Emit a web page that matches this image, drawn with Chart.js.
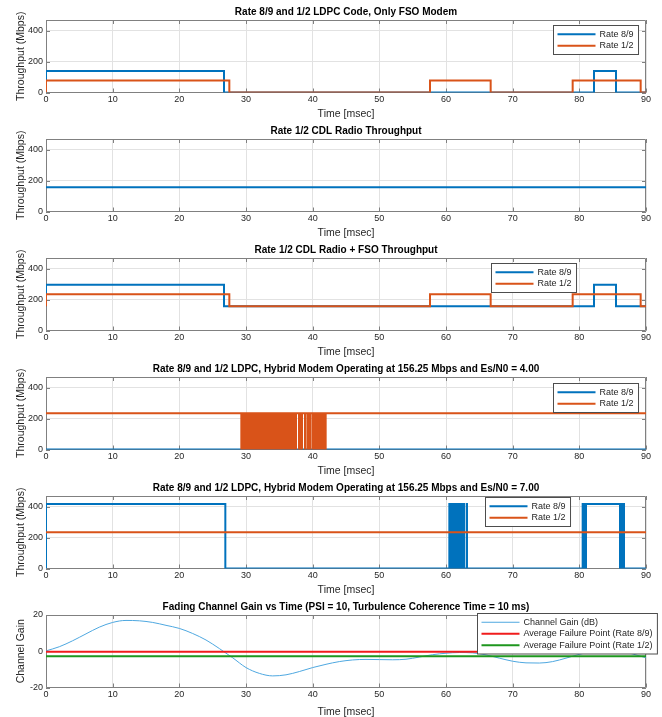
<!DOCTYPE html>
<html>
<head>
<meta charset="utf-8">
<title>Hybrid FSO / CDL radio throughput</title>
<script src="https://cdn.jsdelivr.net/npm/chart.js@4.4.1/dist/chart.umd.min.js"></script>
<style>
  html, body { margin: 0; padding: 0; background: #fff; }
  #figure { position: relative; width: 662px; height: 717px; }
  .panel { position: absolute; left: 0; width: 662px; }
  canvas { display: block; }
</style>
</head>
<body>
<div id="figure"></div>
<script>
// ── Data ──────────────────────────────────────────────────────────────────────

const TIME_TICKS       = [0, 10, 20, 30, 40, 50, 60, 70, 80, 90];
const THROUGHPUT_TICKS = [0, 200, 400];
const GAIN_TICKS       = [-20, 0, 20];

const THROUGHPUT_MAX = 468.75;   // Mbps, top of the throughput axes
const RADIO_RATE     = 156.25;   // CDL radio, constant
const FSO_RATE_89    = 138.9;    // FSO link up, rate 8/9
const FSO_RATE_12    = 78.1;     // FSO link up, rate 1/2
const HYBRID_RATE_89 = 416.7;    // hybrid modem, rate 8/9 link up
const HYBRID_RATE_12 = 234.4;    // hybrid modem, rate 1/2 link up

// FSO link-up windows [start, end] in msec
const FSO_UP_89 = [[0, 26.7], [82.2, 85.5]];
const FSO_UP_12 = [[0, 27.5], [57.6, 66.7], [79.0, 89.2]];

// Es/N0 = 4.00 : rate 1/2 outages [start, end] (rate 8/9 never up)
const ES4_OUT_12 = [
  [29.30, 29.45], [29.60, 29.75], [29.90, 30.05], [30.20, 30.35], [30.50, 30.65],
  [30.80, 30.95], [31.10, 31.25], [31.40, 31.55], [31.70, 31.85], [32.00, 32.15],
  [32.30, 32.45], [32.60, 32.75], [32.90, 33.05], [33.20, 33.35], [33.50, 33.65],
  [33.80, 33.95], [34.10, 34.25], [34.40, 34.55], [34.70, 34.85], [35.00, 35.15],
  [35.30, 35.45], [35.60, 35.75], [35.90, 36.05], [36.20, 36.35], [36.50, 36.65],
  [36.80, 36.95], [37.10, 37.25], [37.40, 37.50], [37.95, 38.10], [38.25, 38.40],
  [38.85, 38.90], [39.25, 39.30], [39.60, 39.65], [40.00, 40.15], [40.30, 40.45],
  [40.60, 40.75], [40.90, 41.05], [41.20, 41.35], [41.50, 41.65], [41.80, 41.95],
];

// Es/N0 = 7.00 : rate 8/9 link-up windows (rate 1/2 always up)
const ES7_UP_89 = [
  [0, 26.9],
  [60.50, 60.60], [60.70, 60.80], [60.90, 61.00], [61.10, 61.20], [61.30, 61.40],
  [61.50, 61.60], [61.70, 61.80], [61.90, 62.00], [62.10, 62.20], [62.30, 62.40],
  [62.55, 62.70], [63.10, 63.15],
  [80.50, 80.60], [80.75, 80.85], [81.00, 86.10],
  [86.25, 86.35], [86.50, 86.60], [86.65, 86.70],
];

// Fading channel gain (dB) vs time (msec)
const GAIN_TIME = [0, 2, 4, 6, 8, 10, 12, 14, 16, 18, 20, 22, 24, 26, 28, 30, 32, 34, 36, 38,
                   40, 42, 44, 46, 48, 50, 52, 54, 56, 58, 60, 62, 64, 66, 68, 70, 72, 74, 76, 78,
                   80, 82, 84, 86, 88, 90];
const GAIN_DB   = [0.2, 2.5, 5.8, 9.6, 13.3, 15.9, 17.0, 16.8, 15.9, 14.3, 12.6, 9.8, 6.2, 1.5,
                   -3.6, -9.0, -12.2, -13.6, -13.0, -11.2, -9.0, -7.2, -5.7, -4.8, -4.5, -4.6,
                   -4.7, -4.4, -3.2, -1.9, -1.1, -0.7, -0.9, -2.0, -3.8, -5.5, -6.4, -6.5, -5.7,
                   -3.8, -1.7, -0.2, 0.3, 0.2, -1.5, -3.6];
const FAIL_TIME  = [0, 90];
const FAIL_89_DB = [-0.3, -0.3];
const FAIL_12_DB = [-2.7, -2.7];

// ── Style ─────────────────────────────────────────────────────────────────────

const FONT   = '"Liberation Sans", Arial, Helvetica, sans-serif';
const TEXT   = '#262626';
const GRID   = '#e2e2e2';
const BOX    = '#808080';
const BLUE   = '#0072bd';
const ORANGE = '#d95319';
const PLOT_TOP = 20;
const PLOT_H   = 72.5;

// ── Helpers ───────────────────────────────────────────────────────────────────

/** Stair points: `base` everywhere except `level` inside each [start, end]. */
function steps(intervals, base, level) {
  const pts = [{ x: 0, y: base }];
  intervals.forEach(([a, b]) => pts.push({ x: a, y: level }, { x: b, y: base }));
  pts.push({ x: 90, y: base });
  return pts;
}

function xy(xs, ys) {
  return xs.map((x, i) => ({ x, y: ys[i] }));
}

function rate(label, data, color, order) {
  return { label, data, borderColor: color, borderWidth: 2, stepped: true, order };
}

// ── Panels ────────────────────────────────────────────────────────────────────

const PANELS = [
  {
    title: 'Rate 8/9 and 1/2 LDPC Code, Only FSO Modem',
    legend: { right: 638, top: 25 },
    datasets: [
      rate('Rate 8/9', steps(FSO_UP_89, 0, FSO_RATE_89), BLUE, 2),
      rate('Rate 1/2', steps(FSO_UP_12, 0, FSO_RATE_12), ORANGE, 1),
    ],
  },
  {
    title: 'Rate 1/2 CDL Radio Throughput',
    legend: null,
    datasets: [rate('Radio', steps([], RADIO_RATE, RADIO_RATE), BLUE, 1)],
  },
  {
    title: 'Rate 1/2 CDL Radio + FSO Throughput',
    legend: { right: 576, top: 25 },
    datasets: [
      rate('Rate 8/9', steps(FSO_UP_89, RADIO_RATE, RADIO_RATE + FSO_RATE_89), BLUE, 2),
      rate('Rate 1/2', steps(FSO_UP_12, RADIO_RATE, RADIO_RATE + FSO_RATE_12), ORANGE, 1),
    ],
  },
  {
    title: 'Rate 8/9 and 1/2 LDPC, Hybrid Modem Operating at 156.25 Mbps and Es/N0 = 4.00',
    legend: { right: 638, top: 26 },
    datasets: [
      rate('Rate 8/9', steps([], 0, 0), BLUE, 2),
      rate('Rate 1/2', steps(ES4_OUT_12, HYBRID_RATE_12, 0), ORANGE, 1),
    ],
  },
  {
    title: 'Rate 8/9 and 1/2 LDPC, Hybrid Modem Operating at 156.25 Mbps and Es/N0 = 7.00',
    legend: { right: 570, top: 21 },
    datasets: [
      rate('Rate 8/9', steps(ES7_UP_89, 0, HYBRID_RATE_89), BLUE, 2),
      rate('Rate 1/2', steps([], HYBRID_RATE_12, HYBRID_RATE_12), ORANGE, 1),
    ],
  },
  {
    title: 'Fading Channel Gain vs Time (PSI = 10, Turbulence Coherence Time = 10 ms)',
    yTitle: 'Channel Gain',
    yMin: -20, yMax: 20, yTicks: GAIN_TICKS,
    height: 122,
    legend: { right: 657, top: 18 },
    datasets: [
      { label: 'Channel Gain (dB)', data: xy(GAIN_TIME, GAIN_DB), borderColor: '#4fa8e0',
        borderWidth: 1, cubicInterpolationMode: 'monotone', order: 3 },
      { label: 'Average Failure Point (Rate 8/9)', data: xy(FAIL_TIME, FAIL_89_DB),
        borderColor: '#f01c1c', borderWidth: 2, order: 2 },
      { label: 'Average Failure Point (Rate 1/2)', data: xy(FAIL_TIME, FAIL_12_DB),
        borderColor: '#1e961e', borderWidth: 2, order: 1 },
    ],
  },
];

// ── MATLAB-style box, inward ticks, title and legend ─────────────────────────

const matlabAxes = {
  id: 'matlabAxes',
  beforeDatasetsDraw(chart) {
    const { ctx, chartArea: a, scales: { x, y } } = chart;
    const L = 4;
    ctx.save();
    ctx.strokeStyle = BOX;
    ctx.lineWidth = 1;
    ctx.beginPath();
    ctx.rect(Math.round(a.left) + 0.5, Math.round(a.top) + 0.5,
             Math.round(a.width) - 1, Math.round(a.height) - 1);
    x.ticks.forEach((t) => {
      const px = Math.round(x.getPixelForValue(t.value)) + 0.5;
      ctx.moveTo(px, a.bottom); ctx.lineTo(px, a.bottom - L);
      ctx.moveTo(px, a.top);    ctx.lineTo(px, a.top + L);
    });
    y.ticks.forEach((t) => {
      const py = Math.round(y.getPixelForValue(t.value)) + 0.5;
      ctx.moveTo(a.left, py);  ctx.lineTo(a.left + L, py);
      ctx.moveTo(a.right, py); ctx.lineTo(a.right - L, py);
    });
    ctx.stroke();
    ctx.restore();
  },
  afterDatasetsDraw(chart, args, opts) {
    const { ctx, chartArea: a } = chart;
    ctx.save();
    ctx.fillStyle = '#000';
    ctx.font = `bold 10px ${FONT}`;
    ctx.textAlign = 'center';
    ctx.textBaseline = 'middle';
    ctx.fillText(opts.title, (a.left + a.right) / 2, a.top - 7.5);

    if (opts.legend) {
      const items = chart.data.datasets;
      const rowH = 11.5;
      ctx.font = `9px ${FONT}`;
      const textW = Math.max(...items.map((d) => ctx.measureText(d.label).width));
      const w = 4 + 38 + 4 + textW + 5;
      const h = 3 + items.length * rowH + 3;
      const x0 = Math.round(opts.legend.right - w) + 0.5;
      const y0 = opts.legend.top + 0.5;
      ctx.fillStyle = '#fff';
      ctx.fillRect(x0, y0, w, h);
      ctx.strokeStyle = '#4d4d4d';
      ctx.lineWidth = 1;
      ctx.strokeRect(x0, y0, w, h);
      ctx.textAlign = 'left';
      items.forEach((d, i) => {
        const cy = y0 + 3 + rowH * i + rowH / 2;
        ctx.strokeStyle = d.borderColor;
        ctx.lineWidth = d.borderWidth;
        ctx.beginPath();
        ctx.moveTo(x0 + 4, cy);
        ctx.lineTo(x0 + 42, cy);
        ctx.stroke();
        ctx.fillStyle = TEXT;
        ctx.fillText(d.label, x0 + 46, cy);
      });
    }
    ctx.restore();
  },
};

// ── Build ─────────────────────────────────────────────────────────────────────

const figure = document.getElementById('figure');
let panelTop = 0;

PANELS.forEach((p) => {
  const height = p.height || 119;
  const div = document.createElement('div');
  div.className = 'panel';
  div.style.top = panelTop + 'px';
  div.style.height = height + 'px';
  const canvas = document.createElement('canvas');
  canvas.width = 662;
  canvas.height = height;
  div.appendChild(canvas);
  figure.appendChild(div);
  panelTop += height;

  const yTicks = p.yTicks || THROUGHPUT_TICKS;

  new Chart(canvas, {
    type: 'line',
    data: { datasets: p.datasets.map((d) => ({ pointRadius: 0, fill: false, ...d })) },
    options: {
      responsive: false,
      animation: false,
      events: [],
      layout: { padding: { top: PLOT_TOP, right: 16, left: 0, bottom: 0 } },
      plugins: {
        legend:  { display: false },
        tooltip: { enabled: false },
        matlabAxes: { title: p.title, legend: p.legend },
      },
      scales: {
        x: {
          type: 'linear',
          min: 0,
          max: 90,
          afterBuildTicks: (s) => { s.ticks = TIME_TICKS.map((v) => ({ value: v })); },
          afterFit: (s) => { s.height = height - PLOT_TOP - PLOT_H; },
          grid:   { color: GRID, drawTicks: false },
          border: { display: false },
          ticks:  { color: TEXT, font: { family: FONT, size: 9 }, padding: 2,
                    maxRotation: 0, autoSkip: false },
          title:  { display: true, text: 'Time [msec]', color: TEXT,
                    font: { family: FONT, size: 10.5 }, padding: { top: 0, bottom: -1.5 } },
        },
        y: {
          type: 'linear',
          min: p.yMin !== undefined ? p.yMin : 0,
          max: p.yMax !== undefined ? p.yMax : THROUGHPUT_MAX,
          afterBuildTicks: (s) => { s.ticks = yTicks.map((v) => ({ value: v })); },
          afterFit: (s) => { s.width = 46; },
          grid:   { color: GRID, drawTicks: false },
          border: { display: false },
          ticks:  { color: TEXT, font: { family: FONT, size: 9 }, padding: 3 },
          title:  { display: true, text: p.yTitle || 'Throughput (Mbps)', color: TEXT,
                    font: { family: FONT, size: 10.5 }, padding: { top: 15, bottom: 0 } },
        },
      },
    },
    plugins: [matlabAxes],
  });
});
</script>
</body>
</html>
